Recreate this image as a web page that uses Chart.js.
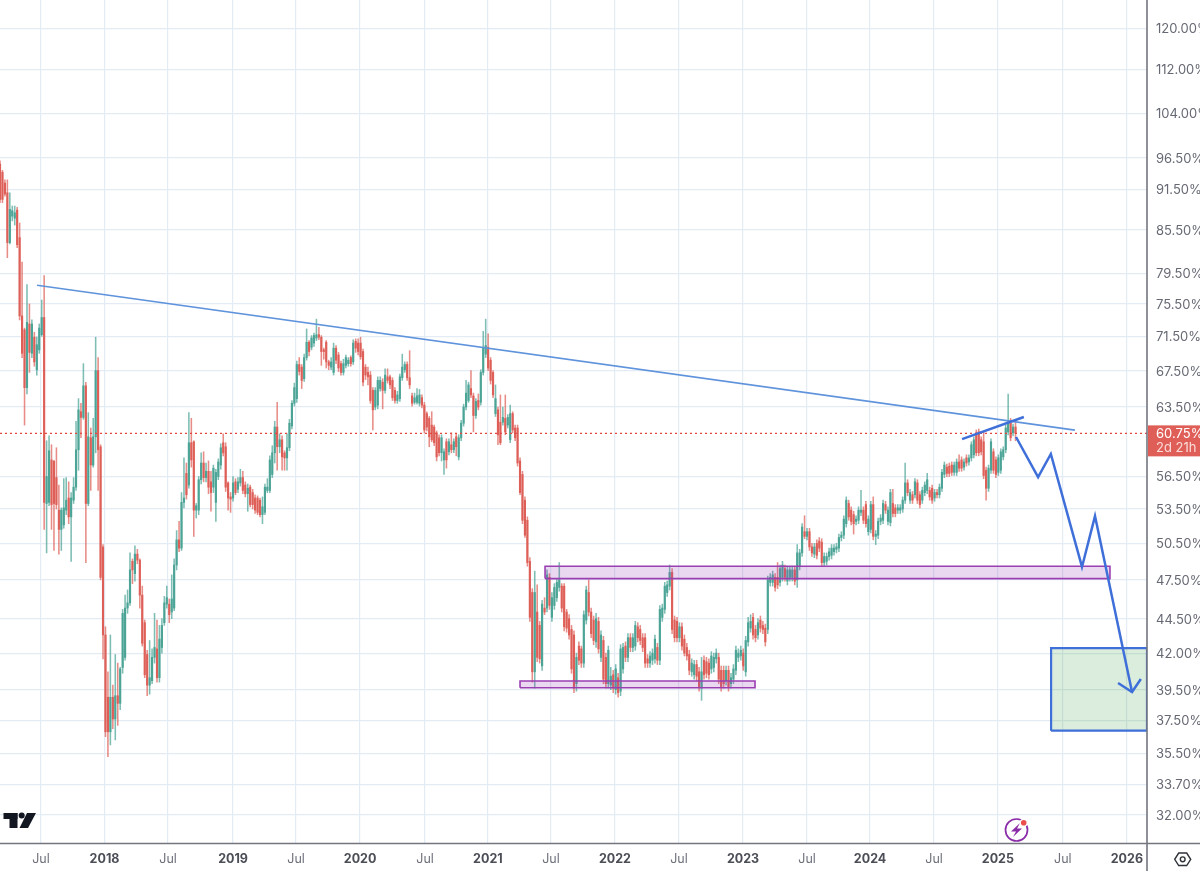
<!DOCTYPE html>
<html><head><meta charset="utf-8">
<style>html,body{margin:0;padding:0;background:#fff;overflow:hidden}canvas{display:block}</style>
<script src="https://cdn.jsdelivr.net/npm/chart.js@4"></script>
</head><body><canvas id="c" width="1200" height="871"></canvas>
<script>
const opens=[95.5,94.2,92.5,91,83.7,87.5,87.2,88.4,84.4,74,
72.3,65.6,73,69.5,71.4,67.6,69.9,71.7,73.8,54,
54.1,58.1,58,56.4,53.4,51.7,52.1,53.4,54.5,52.8,
54.3,55.5,59.1,63,62.4,65.8,54,60.3,57.6,60.4,
67.5,59.4,50.2,43.3,39,36.8,39,37.6,39.1,38.6,
41,41.7,45.3,45.7,49,48,49.6,49.1,46.3,44.2,
41.9,39.8,40.1,41.7,42.3,40.3,42.4,44.2,45.6,45.6,
45,45.3,48.7,50.8,50.1,54.1,56.8,55.7,59.8,59.9,
53.4,53.4,56.2,57.8,56.4,57,56,55.5,54.1,56.5,
57.6,59.8,59.4,55.9,54.6,54.5,56,55.3,55.9,56.4,
55.7,54.9,55.5,55,54.5,54.5,54.3,53,53.2,55.2,
55.2,56.7,58.8,61.4,59.4,60.1,58.8,58.3,59.3,61.5,
63.9,64.4,68.2,67.9,66.6,69,70.8,70.2,70.7,71.3,
71.7,71.4,69.9,70.8,68.5,67.9,67.3,70.1,69.3,68.3,
67.3,68.1,68.3,69,68.5,70.9,70.7,70.7,69.7,67.9,
67.3,67,65.3,63.5,63.7,65.5,66.2,65.3,66.8,66.8,
66.4,65.3,64.2,64.4,66.7,67.6,68.2,66.7,64.7,64,
64,63.9,64.5,63.7,62.8,62.3,61.6,61.4,60.8,60.3,
58.8,58.1,59.9,58.9,59.6,59.1,60.4,58.4,60.3,61.8,
63.5,64.2,65.5,64.7,62.6,64.2,64,67.3,69.4,70.2,
68.7,67.3,62.8,63.2,61.9,61.9,62.3,61.6,60.1,62.8,
61.3,61.3,58,56.7,54.3,52.5,49,46.5,40.7,45,
44,41.1,45.3,45.3,47.7,44.6,45.5,46.1,46.9,47,
47,45,44.5,43.7,43.3,39.9,42.5,42.3,41.3,44.4,
46.5,45,44.4,42.8,44.3,41.7,42.9,41.7,39.9,39.8,
40.5,39.5,40.3,39.4,40.9,42.5,41.7,43.1,42.4,42.5,
43.9,43.7,43.1,43.1,41.6,41.3,41.5,41.6,42.4,41.5,
44.6,45.2,46.5,47,48.1,44.4,44.3,43.1,43.9,43,
42.4,41.9,40.7,40.5,41.2,40.7,39.6,41.5,41.4,41.3,
40.9,41,41.6,41.7,40.8,40.8,40.1,40.8,39.9,40.2,
40.8,41.7,41.8,42,40.7,42.8,43.8,44.6,43.7,43.3,
44.4,44,43.8,43.7,47.3,47.3,47.7,47.7,47.3,47.7,
48.4,47.4,47.7,47.7,48.3,47.5,48.6,49.7,51.5,51.1,
51.5,50.2,49.6,50.5,50.7,50.6,48.9,49,49.4,49.5,
49.8,50,50.1,51,51.2,52.2,54,53.4,53,52.4,
52.5,53.2,53.4,53.9,51.5,51.7,53.9,51.1,51.2,52.4,
52.5,53.9,52.4,52.3,54,53.6,53.4,53.4,53.5,54.3,
55.9,54.3,54.8,54.8,55.9,54.8,54.3,55,55.2,55.2,
55.4,54.5,55,54.8,55.4,56.7,57.4,57.5,57.6,56.9,
56.9,57.9,58.1,57.4,58.3,57.9,58.3,58.6,60.8,60.9,
60.1,59.9,57.1,55.4,57.1,58.9,58.1,56.9,57.1,58.4,
59.1,60.9,61.8,60.8,61.4];
const closes=[90,90,90.8,83.7,88.5,88.3,88,83.4,74,69.5,
65.6,73.2,69.6,73,68.5,70.5,72.5,73.8,54.1,56.5,
59,53.9,54,53.9,51.7,53.4,53.6,54.3,52.8,54.5,
55.5,59.1,63.2,62.4,65.8,54,60.4,57.6,60.4,67.5,
59.1,47.7,43.3,36.8,36.8,39,37.6,39.1,38.6,40.9,
44.9,45.3,45.7,48.3,48.3,49.6,49.1,46.3,42.7,40.5,
39.8,40.3,41.7,42.4,40.3,43,44,45.7,46.1,44.8,
46,48.7,50.8,50.1,54.1,54.5,54.8,59.8,58.1,53.4,
53.8,56.2,57.8,56.4,57,55.5,55,57.3,56.9,57.9,
59.3,58.8,55.5,54.5,54.4,55.9,55,56,56.4,55.2,
54.9,55.4,53.9,53.9,53.4,53.2,53,53.7,55.5,55.5,
58.1,58.8,61.4,59.4,60.1,58.4,58.3,59.3,61.8,63.9,
65.6,68.2,67.4,66.4,69,70.8,69.7,71.3,71.6,71.7,
71.4,69.7,69.7,68.5,68.1,68.5,70.1,68.7,67.8,67.3,
68.3,69,68.7,68.3,70.7,70.1,69.7,69.1,66.2,67,
66.8,64.2,63.2,65.3,66.4,66.4,65.3,67,66.4,65.9,
64.5,64.2,64.8,66.8,67.9,68.2,66.7,65.9,63.9,64.5,
64.7,64.8,63.7,61.1,61.4,60.4,60.1,59.8,58.4,58.8,
60.3,58.9,58.1,59.9,59.1,59.9,59.4,60.3,61.8,63.5,
65,65.9,64.8,62.6,64.1,63.5,67.3,70.2,70.4,67.8,
66.4,64.8,64.4,60.6,59.8,62.4,60.9,62.4,62.8,61.1,
60.3,57.8,55,52.5,51.2,48.9,44.6,40.7,46.5,41.7,
41.6,45.6,45,47.9,45.5,46.1,46.9,47.3,47.5,45.3,
43.9,43.8,43.3,40.9,39.6,41.7,41.5,41.3,44.8,46.7,
45,43.4,42.9,44.5,42.3,43.3,40.2,39.9,42.2,40.4,
39.6,40.9,39.3,42.3,42.4,41.7,43.1,42.4,43.1,44,
43.1,42.9,42.4,41.3,41.3,41.8,42,43,41.5,45.2,
45.3,47,47.1,48.1,43.7,43.1,43.1,43.9,42.5,42,
41.8,40.8,41.3,41.2,40.4,39.7,40.7,40.5,40.6,40.5,
41.8,41.7,42,40.2,39.7,39.9,40.8,39.7,40.3,40.9,
42.2,42,42.2,41.1,42.9,44.2,44.3,43.3,43.1,44.2,
43.8,43.7,42.8,47.5,47.7,47.9,46.9,47.1,48.4,48.7,
47.7,48.3,48.3,48.3,47.4,49.7,49.7,51.9,51.1,51.5,
50.2,49.7,50.2,49.5,50.1,48.9,49.4,49.4,49.8,50.1,
50.1,50.2,51,51.2,52.6,54.3,52.8,52.4,52.2,52.6,
53.4,53.4,52.5,52.2,52.6,53.9,51.1,51.3,52.4,52.7,
54,53.4,53.4,55,53.1,53.1,53.6,53.6,54.3,55.9,
55,55,54.3,56,54.3,53.9,55.2,55.7,56.2,54.6,
54.3,55,54.8,55.5,56.9,57.6,56.8,56.8,56.9,57.6,
57.9,57.3,57.3,57.9,57.8,58.3,59.6,60.1,58.8,58.8,
58.9,56.6,55.4,57.3,59.9,57.1,56.7,58.3,58.9,59.1,
61.3,61.8,60.3,61.4,60.75];
const highs=[96,94.5,93,93,91,89,89,88.8,86.5,81,
72.5,78,75.5,73.5,72,71.4,73,76,79.2,60,
60.5,59.6,58,59.3,55.7,53.6,56.3,56.4,56,55,
56.4,62,64.4,63.9,68.3,66.2,62.9,61.3,62.3,71.4,
69,59.6,50.4,43.9,40.7,43.3,39.8,41.9,41.3,41,
45.2,46.3,46.7,49.7,49.2,50.3,50,49.2,47,44.4,
42.2,42.9,42.3,44.9,44.4,44,44.5,46.2,47,46,
47.9,49.2,51.6,52.4,55,58.3,57.8,62.9,62.3,60,
54,56.5,58.8,58.9,57.8,58,57,57.6,57.2,58.2,
59.7,60.7,59.8,56,55,56.5,56.3,56.4,57.2,57,
56,55.8,55.7,55.3,54.8,54.7,54.5,54.6,55.8,56.3,
58.5,59.5,62,64,60.7,60.5,59,60.7,62.2,64.2,
66.1,68.6,69,68.2,69.4,72.4,71,71.6,71.9,73.6,
72.6,71.6,70.1,71,68.7,69,70.7,70.4,69.6,68.6,
68.8,69.3,69,69.2,71.1,71.2,71.2,71.4,70,68.2,
67.9,67.4,65.6,65.6,66.8,66.8,66.6,67.7,67.7,67,
66.7,65.6,65.2,67.1,69.4,68.5,68.5,69.8,65,65,
65.5,65.4,64.8,64,63,62.5,63,61.6,61,60.6,
60.6,59.2,60.2,60.2,60.8,60.2,60.7,60.6,62.1,63.8,
66.4,66.2,67.5,65,64.4,64.9,67.6,72.1,73.6,71.8,
69,67.5,65.9,63.5,64.8,63.5,64.8,62.7,63.7,63,
61.6,61.6,58.3,57,54.6,52.8,49.3,46.8,48.2,47.1,
44.3,45.9,46.1,48.3,48,46.5,47.2,47.6,48.9,47.2,
47.2,45.2,44.8,44,43.6,42,42.8,42.5,45.1,47,
47.5,45.3,44.7,44.9,44.6,43.6,43.2,42,42.5,41,
40.8,41.2,40.6,42.6,42.7,42.8,43.4,43.4,43.4,44.3,
44.2,44,43.4,43.4,41.9,42.1,42.3,43.3,42.7,45.5,
45.6,47.3,47.4,48.7,48.4,44.7,44.6,44.2,44.2,43.3,
42.7,42.2,41.6,41.5,41.5,41,41.7,41.8,41.7,41.6,
42.1,42,42.3,42,41.1,41.1,41.1,41.1,40.6,41.2,
42.5,42.3,42.5,42.3,43.2,44.6,44.8,44.9,44,44.5,
44.7,44.3,44.1,47.8,48,48.2,48,48.9,48.7,49,
48.7,48.6,48.6,48.6,48.6,50.4,50,52.2,52.9,51.8,
51.8,50.5,50.5,50.8,51,50.9,49.7,49.7,50.1,50.4,
50.4,50.5,51.3,51.5,52.9,54.6,54.3,53.7,53.3,52.9,
53.7,55.2,53.7,54.2,52.9,54.2,54.6,51.6,52.7,53,
54.3,54.2,53.7,55.3,55.3,53.9,53.9,53.9,54.6,57.8,
56.2,55.3,55.1,56.3,56.2,55.1,55.5,56,56.8,55.5,
55.7,55.3,55.3,55.8,57.2,57.9,57.7,57.8,57.9,57.9,
58.2,58.6,58.4,58.2,58.6,58.6,59.9,60.4,61.1,61.2,
60.4,60.9,57.4,57.6,60.2,59.2,58.4,58.6,59.2,59.4,
61.6,64.9,62.3,61.7,61.9];
const lows=[89.5,89.5,90.5,81.6,83.5,86.8,86.2,83,73.5,69,
61.6,64.9,67.3,69,68,67,69.5,71.5,51.7,49.7,
53.8,51.7,49.9,53.5,49.6,49.9,51.8,53,52.2,49,
54,55.2,57.1,60.3,62.2,48.9,53.8,55.2,57.4,58.8,
55.2,47.5,41.6,36.5,35.3,36,37,36.3,37.2,38.2,
40.6,41.5,44.9,45.5,47.2,47.4,48.8,45.3,42.5,40.3,
39.1,39.2,39.9,41.3,40,40,42,44,45.3,44.2,
44.5,45.1,48.3,49.8,49.9,53.6,54.4,55.4,57.4,51.1,
52.7,53,55.8,56,56,54.9,53.3,55,52.4,56.2,
57.2,58.5,55.1,53.4,53.2,54.2,54.8,55,55.6,54.9,
54.6,53.3,53.7,53.5,53.1,53,52.8,52.2,53,55,
55,56.4,57.8,57.1,58.8,57.1,57.1,57.1,59,61.2,
63.6,64,67,65.5,66.3,68.7,69.2,69.9,70.3,71,
71.1,68.1,68.8,67.8,67.6,67.6,67,68.3,67.4,67,
67,67.8,68,68,68.2,69.6,69.3,68.8,65.8,66.5,
65.9,63.9,61.1,63.2,63.3,65.2,63.3,65,66.1,65.5,
64.2,63.9,63.9,64.1,66.4,67.3,66.4,65.5,63.6,63.8,
63.8,63.6,63.4,60.8,61,59.4,59.9,59.5,58,58.5,
58,56.7,57.3,58.6,58.8,58.8,58.5,58.1,60,61.5,
63.2,64,64.5,60.9,62.3,63.2,63.7,67,69,67.5,
66,64.5,62.5,59.6,59.6,61.6,60.6,61.3,59.8,60.8,
60,57.5,54.8,52.2,51,48.6,44.3,40,39.6,41.4,
41.3,40.8,44.8,45,45.2,44.3,45.2,45.8,46.6,45,
43.6,43.5,43,40.6,39.3,39.4,41.2,41,41,44.1,
44.7,43.1,42.6,42.4,42,41.4,39.9,39.6,39.6,39.5,
39.3,39.2,39,39.1,40.6,41.4,41.4,42.1,42.1,42.2,
42.8,42.6,42.1,41,41,41,41.2,41.3,41.2,41.2,
44.3,44.9,46.2,46.7,43.4,42.8,42.8,42.8,42.2,41.8,
41.5,40.5,40.4,40.2,40.1,39.4,38.8,40.2,40.3,40.2,
40.6,40.7,41.3,39.9,39.4,39.6,39.8,39.4,39.6,39.9,
40.5,41.4,41.5,40.8,40.4,42.5,43.5,43,42.8,43,
43.5,43.4,42.5,43.4,47,47,46.6,46.8,47,47.4,
47.4,47.1,47.4,47.4,47.1,46.9,48.3,49.4,50.9,50.8,
49.9,49.4,49.3,49.2,49.8,48.6,48.6,48.7,49.1,49.2,
49.5,49.7,49.8,50.7,50.9,51.9,52.5,52.1,51.3,52.1,
52.2,52.9,52.2,51.9,51.2,51.4,50.8,50.4,50.9,52.1,
52.2,53.1,52.1,52,52.8,52.8,53.1,53.1,53.2,54,
54.7,54,54,54.5,54,53.6,54,54.7,54.9,54.3,
54,54.2,54.5,54.5,55.1,56.4,56.5,56.5,56.6,56.6,
56.6,57,57,57.1,57.5,57.6,58,58.3,58.5,58.5,
58.6,56.3,54.3,55.1,56.8,56.8,56.4,56.6,56.8,58.1,
58.8,60.6,60,60.5,60];

const xTickWeeks=[16.7,42.6,68.5,95,120.7,146.8,173.3,198.9,224.6,250.7,276.8,302.9,329,354.7,380.8,406.8,433.3,459.4];
const xTickLabels=['Jul','2018','Jul','2019','Jul','2020','Jul','2021','Jul','2022','Jul','2023','Jul','2024','Jul','2025','Jul','2026'];
const yTickValues=[120,112,104,96.5,91.5,85.5,79.5,75.5,71.5,67.5,63.5,56.5,53.5,50.5,47.5,44.5,42,39.5,37.5,35.5,33.7,32];
const lastPrice=60.75;
const trendX=[15.1,438.2], trendY=[77.9,61.08];
const wedgeX=[392.2,417.4], wedgeY=[60.17,62.44];
const pathX=[414.2,423.2,428.4,441.1,446.4,461.5], pathY=[60.38,56.45,58.68,48.54,52.87,39.34];
const headX=[455.8,461.5,465.1], headY=[39.94,39.34,40.21];
const upperZone={x:[222.2,452.5],y:[47.6,48.6]};
const lowerZone={x:[212,307.8],y:[39.63,40.08]};
const targetZone={x:[428.5,467.6],y:[36.87,42.35]};
const xMin=0,xMax=467.6,yMin=30.53,yMax=125.8;

const UP='#4ba496',DOWN='#de5f58',UPW='rgba(75,164,150,.72)',DOWNW='rgba(222,95,88,.72)',BLUE='#3f6fd8',PURPLE='#9a3fb2',AXIS='#73767f',GRID='#e3ecf4';
const pts=(xs,ys)=>xs.map((x,i)=>({x,y:ys[i]}));
const line=(data,color,width,extra)=>Object.assign({type:'line',data,borderColor:color,borderWidth:width,pointRadius:0,pointHoverRadius:0,fill:false,tension:0,order:1},extra||{});
function box(z,stroke,fill,width){
  return [
    line(pts(z.x,[z.y[1],z.y[1]]),'rgba(0,0,0,0)',0,{fill:{value:z.y[0]},backgroundColor:fill,order:1.5}),
    line(pts([z.x[0],z.x[1],z.x[1],z.x[0],z.x[0]],[z.y[0],z.y[0],z.y[1],z.y[1],z.y[0]]),stroke,width,{order:1.2})
  ];
}
const weeks=closes.map((_,i)=>i);
const isUp=i=>closes[i]>=opens[i];
const tickLabel=c=>c&&c.tick?xTickLabels[xTickWeeks.indexOf(c.tick.value)]:'Jul';
const datasets=[
  line(pts(pathX,pathY),BLUE,2.5,{order:0,borderJoinStyle:'miter'}),
  line(pts(headX,headY),BLUE,2.5,{order:0,borderJoinStyle:'miter'}),
  line(pts(wedgeX,wedgeY),BLUE,2.5,{order:0}),
  line(pts(trendX,trendY),'#5f93dc',1.6,{order:0.5}),
  line(pts([xMin,xMax],[lastPrice,lastPrice]),'#e2463c',1.2,{borderDash:[2,3],order:0.8}),
  ...box(upperZone,PURPLE,'rgba(150,60,180,.2)',1.6),
  ...box(lowerZone,PURPLE,'rgba(150,60,180,.2)',1.6),
  ...box(targetZone,BLUE,'rgba(76,165,80,.2)',2.2),
  {type:'bar',order:3,grouped:false,barThickness:1.5,minBarLength:1,
   data:weeks.map(i=>({x:i,y:[Math.min(opens[i],closes[i]),Math.max(opens[i],closes[i])]})),
   backgroundColor:weeks.map(i=>isUp(i)?UP:DOWN),borderWidth:0},
  {type:'bar',order:4,grouped:false,barThickness:0.9,
   data:weeks.map(i=>({x:i,y:[lows[i],highs[i]]})),
   backgroundColor:weeks.map(i=>isUp(i)?UPW:DOWNW),borderWidth:0}
];
const overlay={id:'overlay',afterDraw(ch){
  const c=ch.ctx,a=ch.chartArea,y=ch.scales.y.getPixelForValue(lastPrice);
  c.save();
  c.strokeStyle=AXIS;c.lineWidth=1.6;
  c.beginPath();c.moveTo(0,a.bottom+.5);c.lineTo(1200,a.bottom+.5);c.moveTo(a.right,0);c.lineTo(a.right,871);c.stroke();
  // last price tag
  c.fillStyle='#df5f58';c.fillRect(a.right+1,y-8,53,31);
  c.textAlign='left';c.textBaseline='middle';c.font='13px Inter';
  c.fillStyle='#ffffff';c.fillText('60.75%',1156,y+.5);
  c.fillStyle='#fbdcd9';c.fillText('2d 21h',1156,y+14.5);
  // logo
  c.fillStyle='#131722';
  c.fillRect(3.5,813,14,6);c.fillRect(9.5,813,8,15);
  c.beginPath();c.arc(21.7,815.5,3,0,Math.PI*2);c.fill();
  c.beginPath();c.moveTo(36,813);c.lineTo(27,813);c.lineTo(19.5,828);c.lineTo(28,828);c.closePath();c.fill();
  // bolt badge
  c.strokeStyle='#8a2ba8';c.lineWidth=1.7;
  c.beginPath();c.arc(1016.5,830,11,0,Math.PI*2);c.stroke();
  c.fillStyle='#8a2ba8';
  c.beginPath();c.moveTo(1020,823);c.lineTo(1011,831.5);c.lineTo(1016,831.5);c.lineTo(1013,837);c.lineTo(1022,828.5);c.lineTo(1017,828.5);c.closePath();c.fill();
  c.fillStyle='#fff';c.beginPath();c.arc(1023.7,822.7,4,0,Math.PI*2);c.fill();
  c.fillStyle='#ea4f4c';c.beginPath();c.arc(1023.7,822.7,2.8,0,Math.PI*2);c.fill();
  // settings
  c.strokeStyle='#2f3238';c.lineWidth=1.4;
  c.beginPath();
  for(let i=0;i<6;i++){const t=i*Math.PI/3,px=1182.7+8*Math.cos(t),py=859.3+7.2*Math.sin(t);i?c.lineTo(px,py):c.moveTo(px,py);}
  c.closePath();c.stroke();
  c.beginPath();c.arc(1182.7,859.3,2.4,0,Math.PI*2);c.stroke();
  c.restore();
}};
new Chart(document.getElementById('c'),{
  type:'bar',
  data:{datasets},
  plugins:[overlay],
  options:{
    responsive:false,animation:false,devicePixelRatio:1,
    layout:{padding:0},
    plugins:{legend:{display:false},tooltip:{enabled:false},title:{display:false}},
    events:[],
    scales:{
      x:{type:'linear',position:'bottom',min:xMin,max:xMax,offset:false,bounds:'data',
        grid:{color:GRID,lineWidth:1.2,offset:false,drawTicks:false},border:{display:false},
        afterBuildTicks:s=>{s.ticks=xTickWeeks.map(v=>({value:v}));},
        afterFit:s=>{s.height=28;s.paddingLeft=0;s.paddingRight=0;},
        ticks:{autoSkip:false,maxRotation:0,minRotation:0,padding:9,
          callback:v=>xTickLabels[xTickWeeks.indexOf(v)],
          font:c=>tickLabel(c)==='Jul'?{family:'Inter',size:12.5,weight:'400'}:{family:'Inter',size:12.5,weight:'700'},
          color:c=>tickLabel(c)==='Jul'?'#6e717b':'#4b4e56'}},
      y:{type:'logarithmic',position:'right',min:yMin,max:yMax,bounds:'data',
        grid:{color:GRID,lineWidth:1.2,drawTicks:false},border:{display:false},
        afterBuildTicks:s=>{s.ticks=yTickValues.map(v=>({value:v}));},
        afterFit:s=>{s.width=53;s.paddingTop=0;s.paddingBottom=0;},
        ticks:{autoSkip:false,padding:9,labelOffset:1,color:'#666973',font:{family:'Inter',size:13},
          callback:v=>Number(v).toFixed(2)+'%'}}
    }
  }
});
</script></body></html>
